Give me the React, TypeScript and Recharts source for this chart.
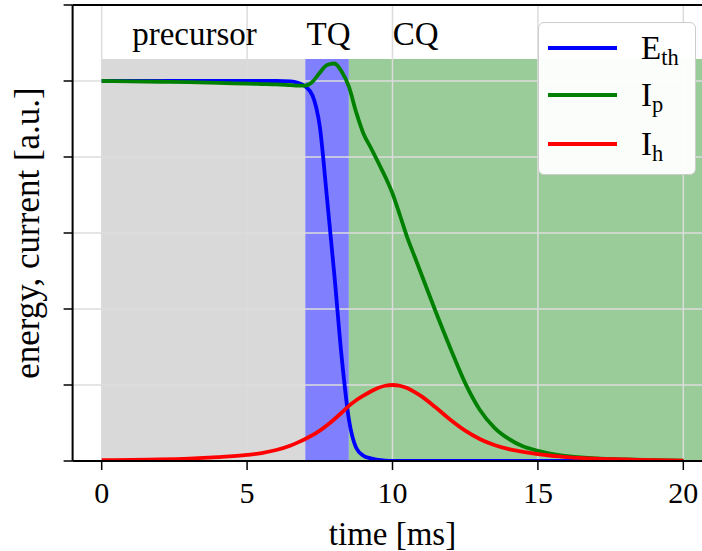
import {
  Legend,
  Line,
  LineChart,
  ReferenceArea,
  ReferenceDot,
  ReferenceLine,
  XAxis,
  YAxis,
} from 'recharts';

// time axis [ms]
const time = [0, 1, 2, 3, 4, 5, 5.5, 6, 6.5, 6.75, 7, 7.25, 7.5, 7.75, 8, 8.25, 8.5, 8.75, 9, 9.25, 9.5, 9.75, 10, 10.25, 10.5, 10.75, 11, 11.5, 12, 12.5, 13, 13.5, 14, 14.5, 15, 16, 17, 18, 19, 20];

// E_th, thermal energy
const eth = [1, 1, 1, 1, 1, 1, 1, 1, 0.999, 0.995, 0.986, 0.962, 0.88, 0.69, 0.49, 0.275, 0.11, 0.035, 0.014, 0.007, 0.003, 0.001, 0, 0, 0, 0, 0, 0, 0, 0, 0, 0, 0, 0, 0, 0, 0, 0, 0, 0];

// I_p, plasma current
const ip = [1.0, 0.999, 0.998, 0.997, 0.995, 0.993, 0.992, 0.991, 0.989, 0.988, 0.988, 0.998, 1.022, 1.042, 1.046, 1.025, 0.985, 0.918, 0.862, 0.825, 0.787, 0.748, 0.704, 0.648, 0.59, 0.54, 0.49, 0.39, 0.295, 0.205, 0.135, 0.088, 0.058, 0.038, 0.027, 0.013, 0.007, 0.004, 0.002, 0.001];

// I_h, halo current
const ih = [0.002, 0.003, 0.004, 0.006, 0.01, 0.016, 0.021, 0.029, 0.041, 0.049, 0.058, 0.068, 0.08, 0.094, 0.11, 0.127, 0.145, 0.16, 0.172, 0.183, 0.192, 0.198, 0.2, 0.198, 0.192, 0.182, 0.17, 0.14, 0.108, 0.08, 0.058, 0.042, 0.031, 0.024, 0.018, 0.01, 0.006, 0.004, 0.002, 0.001];

// phases: boundaries and labels
const phaseBounds = [0, 7, 8.5, 21];
const phaseColors = ['#d9d9d9', '#8080ff', '#99cc99'];
const phaseLabels = ['precursor', 'TQ', 'CQ'];
const phaseLabelX = [3.19, 7.8, 10.8];
const phaseTop = 1.058;

const xTicks = [0, 5, 10, 15, 20];
const yTicks = [0, 0.2, 0.4, 0.6, 0.8, 1.0, 1.2];
const gridY = [0.2, 0.4, 0.6, 0.8, 1.0];

const data = time.map((t, i) => ({ t, eth: eth[i], ip: ip[i], ih: ih[i] }));

const FONT = '"Liberation Serif", "Times New Roman", serif';

const legendItems = [
  { color: '#0000ff', main: 'E', sub: 'th' },
  { color: '#008000', main: 'I', sub: 'p' },
  { color: '#ff0000', main: 'I', sub: 'h' },
];

const renderLegend = () => (
  <div
    style={{
      position: 'absolute',
      left: 538,
      top: 22,
      width: 158,
      height: 153,
      boxSizing: 'border-box',
      border: '1.5px solid #cccccc',
      borderRadius: 6,
      background: 'rgba(255,255,255,0.95)',
      fontFamily: FONT,
      color: '#000',
    }}
  >
    {legendItems.map((it, i) => (
      <div
        key={i}
        style={{
          position: 'absolute',
          left: 9,
          top: [5, 52, 101][i],
          height: 40,
          display: 'flex',
          alignItems: 'center',
        }}
      >
        <span style={{ display: 'inline-block', width: 69, height: 3.5, background: it.color }} />
        <span style={{ marginLeft: 24, fontSize: 33, lineHeight: 1, whiteSpace: 'nowrap' }}>
          {it.main}
          <span style={{ fontSize: '0.68em', position: 'relative', top: '0.28em', lineHeight: 0 }}>{it.sub}</span>
        </span>
      </div>
    ))}
  </div>
);

const App = () => {
  return (
    <div style={{ position: 'absolute', left: 0, top: 0, width: 702, height: 551, overflow: 'hidden', background: '#fff' }}>
      <LineChart width={760} height={551} data={data} margin={{ top: 5, right: 47.6, bottom: 0, left: -19 }}>
        {phaseLabels.map((name, i) => (
          <ReferenceArea
            key={name}
            x1={phaseBounds[i]}
            x2={phaseBounds[i + 1]}
            y1={0}
            y2={phaseTop}
            fill={phaseColors[i]}
            fillOpacity={1}
            stroke="none"
            ifOverflow="hidden"
          />
        ))}
        {xTicks.map((v) => (
          <ReferenceLine key={'gx' + v} x={v} stroke="#dcdcdc" strokeWidth={1.5} />
        ))}
        {gridY.map((v) => (
          <ReferenceLine key={'gy' + v} y={v} stroke="#dcdcdc" strokeWidth={1.5} />
        ))}
        {phaseLabels.map((name, i) => (
          <ReferenceDot
            key={'l' + name}
            x={phaseLabelX[i]}
            y={1.126}
            r={0}
            fill="none"
            stroke="none"
            label={{ value: name, position: 'center', fill: '#000', fontFamily: FONT, fontSize: 33 }}
          />
        ))}
        <XAxis
          dataKey="t"
          type="number"
          domain={[-1, 21]}
          ticks={xTicks}
          allowDataOverflow
          height={90}
          tickSize={9}
          tickMargin={12}
          axisLine={{ stroke: '#000', strokeWidth: 2 }}
          tickLine={{ stroke: '#000', strokeWidth: 1.5 }}
          tick={{ fill: '#000', fontFamily: FONT, fontSize: 30 }}
          label={{ value: 'time [ms]', position: 'insideBottom', offset: 6, fill: '#000', fontFamily: FONT, fontSize: 33 }}
        />
        <YAxis
          type="number"
          domain={[0, 1.2]}
          ticks={yTicks}
          allowDataOverflow
          width={91.6}
          tickSize={9}
          tick={() => <g />}
          axisLine={{ stroke: '#000', strokeWidth: 2 }}
          tickLine={{ stroke: '#000', strokeWidth: 1.5 }}
          label={{ value: 'energy, current [a.u.]', angle: -90, position: 'center', fill: '#000', fontFamily: FONT, fontSize: 35 }}
        />
        <ReferenceLine y={1.2} stroke="#000" strokeWidth={2} />
        <Line type="monotone" dataKey="eth" stroke="#0000ff" strokeWidth={3.8} dot={false} isAnimationActive={false} />
        <Line type="monotone" dataKey="ip" stroke="#008000" strokeWidth={3.8} dot={false} isAnimationActive={false} />
        <Line type="monotone" dataKey="ih" stroke="#ff0000" strokeWidth={3.8} dot={false} isAnimationActive={false} />
        <Legend layout="horizontal" verticalAlign="middle" align="center" content={renderLegend} wrapperStyle={{ position: 'absolute', left: 0, top: 0, width: 0, height: 0 }} />
      </LineChart>
    </div>
  );
};

export default App;
